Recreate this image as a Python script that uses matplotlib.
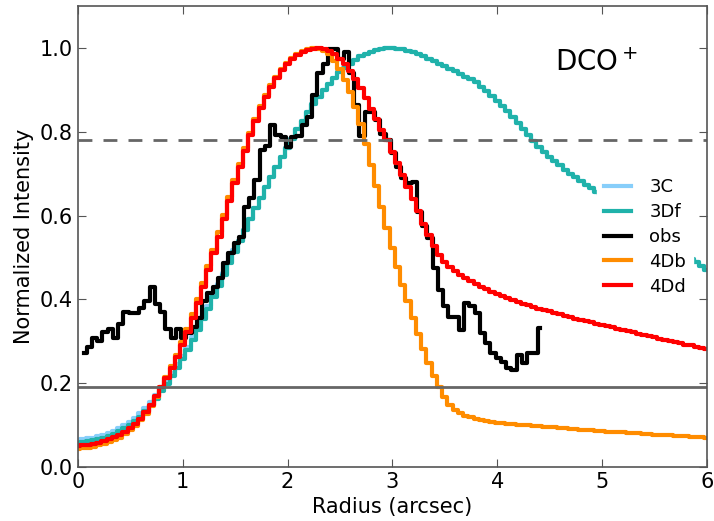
import numpy as np
import matplotlib
matplotlib.use("Agg")
import matplotlib.pyplot as plt

# radial grid of the models (arcsec)
r_model = np.arange(121) * 0.05

# 3Df model profile
i_3df = [0.058, 0.059, 0.061, 0.063, 0.066, 0.070, 0.074, 0.079, 0.085, 0.092,
         0.100, 0.109, 0.120, 0.133, 0.147, 0.163, 0.180, 0.198, 0.217, 0.237,
         0.258, 0.280, 0.303, 0.327, 0.352, 0.378, 0.405, 0.432, 0.459, 0.486,
         0.513, 0.540, 0.566, 0.592, 0.618, 0.643, 0.668, 0.692, 0.716, 0.739,
         0.762, 0.784, 0.806, 0.827, 0.847, 0.866, 0.884, 0.900, 0.915, 0.929,
         0.942, 0.953, 0.963, 0.972, 0.980, 0.986, 0.991, 0.995, 0.998, 0.9995,
         1.000, 0.999, 0.997, 0.994, 0.990, 0.985, 0.980, 0.975, 0.969, 0.963,
         0.957, 0.951, 0.945, 0.938, 0.932, 0.926, 0.918, 0.908, 0.897, 0.886,
         0.874, 0.862, 0.849, 0.835, 0.820, 0.806, 0.792, 0.778, 0.765, 0.753,
         0.741, 0.730, 0.720, 0.710, 0.700, 0.691, 0.682, 0.673, 0.665, 0.657,
         0.650, 0.641, 0.632, 0.623, 0.614, 0.605, 0.596, 0.587, 0.578, 0.569,
         0.560, 0.551, 0.542, 0.533, 0.524, 0.515, 0.506, 0.497, 0.488, 0.479,
         0.470]

# 3C model: a bit higher in the centre, same as 3Df further out
i_3c = [0.065, 0.066, 0.068, 0.070, 0.073, 0.077, 0.081, 0.086, 0.092, 0.099,
        0.107, 0.117, 0.128, 0.141, 0.155, 0.171, 0.188, 0.206, 0.225, 0.245,
        0.265, 0.287, 0.310, 0.334, 0.358, 0.384, 0.410, 0.437, 0.464, 0.490,
        0.517] + i_3df[31:]

# 4Db model profile
i_4db = [0.043, 0.044, 0.046, 0.048, 0.051, 0.055, 0.059, 0.064, 0.070, 0.078,
         0.087, 0.098, 0.111, 0.127, 0.146, 0.167, 0.190, 0.214, 0.240, 0.268,
         0.298, 0.330, 0.364, 0.400, 0.439, 0.479, 0.519, 0.560, 0.602, 0.644,
         0.685, 0.724, 0.762, 0.798, 0.831, 0.861, 0.888, 0.912, 0.932, 0.950,
         0.965, 0.977, 0.987, 0.994, 0.998, 1.000, 0.998, 0.993, 0.985, 0.970,
         0.950, 0.925, 0.895, 0.860, 0.818, 0.770, 0.720, 0.670, 0.620, 0.570,
         0.522, 0.477, 0.435, 0.395, 0.356, 0.318, 0.282, 0.249, 0.218, 0.190,
         0.166, 0.148, 0.136, 0.128, 0.122, 0.118, 0.114, 0.111, 0.109, 0.107,
         0.105, 0.104, 0.103, 0.102, 0.101, 0.100, 0.099, 0.098, 0.097, 0.096,
         0.095, 0.094, 0.093, 0.092, 0.091, 0.090, 0.089, 0.088, 0.087, 0.086,
         0.085, 0.084, 0.083, 0.083, 0.082, 0.081, 0.080, 0.080, 0.079, 0.078,
         0.077, 0.077, 0.076, 0.075, 0.074, 0.074, 0.073, 0.072, 0.071, 0.071,
         0.070]

# 4Dd model profile
i_4dd = [0.050, 0.051, 0.053, 0.055, 0.058, 0.062, 0.066, 0.071, 0.077, 0.084,
         0.093, 0.103, 0.115, 0.130, 0.148, 0.168, 0.190, 0.212, 0.237, 0.263,
         0.292, 0.322, 0.356, 0.392, 0.430, 0.470, 0.510, 0.550, 0.593, 0.636,
         0.677, 0.717, 0.755, 0.792, 0.826, 0.857, 0.884, 0.908, 0.929, 0.947,
         0.962, 0.974, 0.984, 0.991, 0.996, 0.999, 1.000, 0.998, 0.993, 0.985,
         0.975, 0.962, 0.946, 0.927, 0.905, 0.880, 0.855, 0.830, 0.805, 0.780,
         0.753, 0.725, 0.697, 0.668, 0.640, 0.610, 0.581, 0.553, 0.528, 0.506,
         0.490, 0.478, 0.467, 0.458, 0.450, 0.443, 0.436, 0.430, 0.424, 0.418,
         0.413, 0.408, 0.403, 0.398, 0.394, 0.390, 0.386, 0.382, 0.378, 0.374,
         0.371, 0.367, 0.364, 0.361, 0.357, 0.354, 0.351, 0.348, 0.345, 0.342,
         0.339, 0.336, 0.333, 0.330, 0.327, 0.324, 0.321, 0.318, 0.315, 0.312,
         0.309, 0.306, 0.303, 0.300, 0.298, 0.295, 0.292, 0.290, 0.287, 0.284,
         0.282]

# observed profile
i_obs = [0.272, 0.285, 0.307, 0.300, 0.323, 0.330, 0.307, 0.340, 0.370, 0.367,
         0.367, 0.380, 0.395, 0.430, 0.390, 0.370, 0.330, 0.307, 0.330, 0.307,
         0.320, 0.335, 0.355, 0.395, 0.415, 0.430, 0.450, 0.486, 0.510, 0.534,
         0.550, 0.621, 0.641, 0.685, 0.757, 0.766, 0.816, 0.792, 0.788, 0.764,
         0.788, 0.790, 0.816, 0.836, 0.888, 0.940, 0.963, 0.999, 0.999, 0.975,
         0.990, 0.940, 0.864, 0.790, 0.848, 0.848, 0.828, 0.796, 0.780, 0.749,
         0.715, 0.690, 0.677, 0.681, 0.609, 0.575, 0.546, 0.474, 0.422, 0.383,
         0.359, 0.359, 0.327, 0.391, 0.383, 0.367, 0.319, 0.295, 0.271, 0.260,
         0.251, 0.236, 0.232, 0.267, 0.247, 0.271, 0.271, 0.331]
r_obs = 0.06 + np.arange(len(i_obs)) * 0.05

dashed_level = 0.78
solid_level = 0.19

fig = plt.figure(figsize=(7.14, 5.21), dpi=100)
ax = fig.add_axes([0.109, 0.104, 0.881, 0.884])

ax.plot(r_model, i_3c, color='#87CEFA', lw=3, drawstyle='steps-mid', label='3C')
ax.plot(r_model, i_3df, color='#20B2AA', lw=3, drawstyle='steps-mid', label='3Df')
ax.plot(r_obs, i_obs, color='black', lw=3, drawstyle='steps-mid', label='obs')
ax.plot(r_model, i_4db, color='#FF8C00', lw=3, drawstyle='steps-mid', label='4Db')
ax.plot(r_model, i_4dd, color='red', lw=3, drawstyle='steps-mid', label='4Dd')

ax.axhline(dashed_level, color='#666666', lw=2, ls='--', dashes=(5, 4))
ax.axhline(solid_level, color='#666666', lw=2)

ax.text(4.95, 0.965, r'DCO$^+$', fontsize=20, ha='center', va='center')

ax.set_xlim(0, 6)
ax.set_ylim(0, 1.1)
ax.set_xticks(range(7))
ax.set_yticks([0.0, 0.2, 0.4, 0.6, 0.8, 1.0])
ax.set_yticklabels(['0.0', '0.2', '0.4', '0.6', '0.8', '1.0'])
ax.tick_params(direction='in', top=True, right=True, labelsize=15,
               length=6, color='#555555')
for s in ax.spines.values():
    s.set_color('#555555')
    s.set_linewidth(1.2)

ax.set_xlabel('Radius (arcsec)', fontsize=15)
ax.set_ylabel('Normalized Intensity', fontsize=15)

leg = ax.legend(loc='upper right', bbox_to_anchor=(0.993, 0.662), fontsize=13,
                frameon=True, edgecolor='white', framealpha=1, fancybox=False,
                handlelength=1.5, handletextpad=1.0, labelspacing=0.38)

fig.savefig('out.png', dpi=100)
